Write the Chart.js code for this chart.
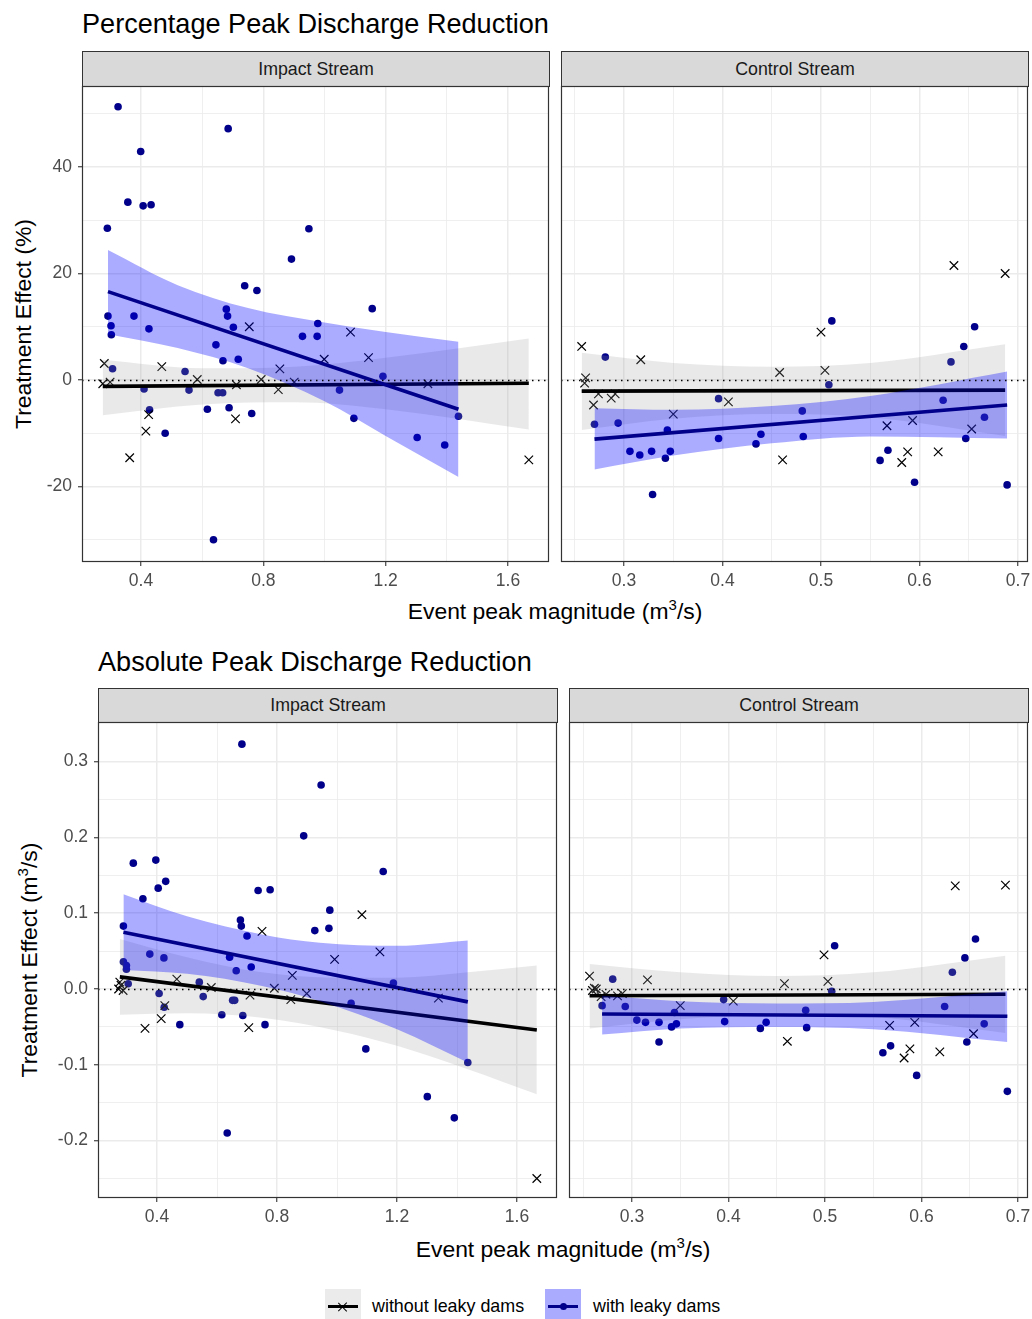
<!DOCTYPE html>
<html><head><meta charset="utf-8">
<script src="https://cdn.jsdelivr.net/npm/chart.js@4/dist/chart.umd.min.js"></script>
<style>
html,body{margin:0;padding:0;width:1032px;height:1319px;overflow:hidden;background:#fff;font-family:"Liberation Sans",Arial,Helvetica,sans-serif;}
.abs{position:absolute;}
canvas{position:absolute;}
.title{position:absolute;font-size:27.1px;line-height:1;color:#000;white-space:nowrap;}
.strip{position:absolute;background:#D9D9D9;border:1px solid #333;box-sizing:border-box;font-size:17.8px;color:#1A1A1A;display:flex;align-items:center;justify-content:center;}
.axt{position:absolute;font-size:22.9px;line-height:1;color:#000;white-space:nowrap;}
.axt sup{font-size:15px;line-height:0;vertical-align:9px;}
.leg{position:absolute;font-size:17.9px;line-height:1;color:#000;white-space:nowrap;}
</style></head>
<body>
<div class="title" style="left:82px;top:9.5px">Percentage Peak Discharge Reduction</div>
<div class="title" style="left:98px;top:647.5px">Absolute Peak Discharge Reduction</div>

<div class="strip" style="left:82px;top:51px;width:468px;height:36px">Impact Stream</div>
<div class="strip" style="left:561px;top:51px;width:468px;height:36px">Control Stream</div>
<div class="strip" style="left:98px;top:688px;width:460px;height:35px">Impact Stream</div>
<div class="strip" style="left:569px;top:688px;width:460px;height:35px">Control Stream</div>

<div class="axt" style="left:555px;top:600px;transform:translateX(-50%)">Event peak magnitude (m<sup>3</sup>/s)</div>
<div class="axt" style="left:563px;top:1238px;transform:translateX(-50%)">Event peak magnitude (m<sup>3</sup>/s)</div>
<div class="axt" style="left:23px;top:324px;transform:translate(-50%,-50%) rotate(-90deg)">Treatment Effect (%)</div>
<div class="axt" style="left:29px;top:960px;transform:translate(-50%,-50%) rotate(-90deg)">Treatment Effect (m<sup>3</sup>/s)</div>

<canvas id="tl" width="560" height="536" style="left:0px;top:66px;width:560px;height:536px"></canvas>
<canvas id="tr" width="488" height="536" style="left:550px;top:66px;width:488px;height:536px"></canvas>
<canvas id="bl" width="568" height="536" style="left:0px;top:702px;width:568px;height:536px"></canvas>
<canvas id="br" width="480" height="536" style="left:558px;top:702px;width:480px;height:536px"></canvas>

<!-- legend -->
<div class="abs" style="left:325px;top:1289px;width:36px;height:34px;background:#EBEBEB"></div>
<div class="abs" style="left:328px;top:1305px;width:30px;height:3px;background:#000"></div>
<div class="abs" style="left:342.4px;top:1300.5px;width:1.2px;height:12px;background:#000;transform:rotate(45deg)"></div>
<div class="abs" style="left:342.4px;top:1300.5px;width:1.2px;height:12px;background:#000;transform:rotate(-45deg)"></div>
<div class="leg" style="left:372px;top:1298px">without leaky dams</div>
<div class="abs" style="left:545px;top:1289px;width:36px;height:34px;background:#AAAAFF"></div>
<div class="abs" style="left:548px;top:1305px;width:30px;height:3px;background:#00008B"></div>
<div class="abs" style="left:559.5px;top:1303px;width:7px;height:7px;border-radius:50%;background:#00008B"></div>
<div class="leg" style="left:593px;top:1298px">with leaky dams</div>

<script>
// ---------------- DATA ----------------
// Tick / gridline values
const pctYGrid = [-30,-20,-10,0,10,20,30,40,50];
const pctYLabels = [-20,0,20,40];
const absYGrid = [-0.25,-0.2,-0.15,-0.1,-0.05,0,0.05,0.1,0.15,0.2,0.25,0.3];
const absYLabels = [-0.2,-0.1,0,0.1,0.2,0.3];
const impactXGrid = [0.4,0.6,0.8,1.0,1.2,1.4,1.6];
const impactXLabels = [0.4,0.8,1.2,1.6];
const controlXGrid = [0.25,0.3,0.35,0.4,0.45,0.5,0.55,0.6,0.65,0.7];
const controlXLabels = [0.3,0.4,0.5,0.6,0.7];

// Percentage - Impact Stream
const pctImpactWithout = [[0.280,3.1],[0.275,-0.7],[0.299,-0.4],[0.468,2.5],[0.584,0.1],[0.712,-0.9],[0.793,0.1],[0.854,2.1],[0.849,-1.8],[0.901,-0.4],[0.754,10.0],[0.425,-6.5],[0.416,-9.6],[0.709,-7.3],[0.363,-14.6],[0.999,3.9],[1.085,9.0],[1.144,4.2],[1.338,-0.7],[1.668,-15.0]];
const pctImpactWith = [[0.325,51.3],[0.685,47.2],[0.399,42.9],[0.357,33.4],[0.407,32.7],[0.433,32.9],[0.290,28.5],[0.949,28.4],[0.892,22.7],[0.739,17.7],[0.779,16.8],[0.679,13.3],[0.683,12.0],[0.292,12.0],[0.377,12.0],[0.302,10.2],[0.702,9.9],[0.426,9.6],[0.303,8.5],[0.978,10.6],[0.928,8.2],[0.976,8.2],[0.645,6.6],[0.668,3.6],[0.718,3.9],[0.307,2.1],[0.544,1.6],[0.410,-1.7],[0.557,-1.9],[0.652,-2.4],[0.667,-2.4],[0.428,-5.6],[0.617,-5.5],[0.688,-5.2],[0.762,-6.3],[0.479,-10.0],[0.637,-30.0],[1.156,13.4],[1.049,-1.9],[1.191,0.7],[1.096,-7.2],[1.438,-6.8],[1.303,-10.8],[1.393,-12.2]];
const pctImpactFitWithout = [[0.275,-1.2],[1.668,-0.6]];
const pctImpactBandWithoutX = [0.275,0.6,0.9,1.2,1.668];
const pctImpactBandWithoutHi = [3.8,2.2,2.5,4.2,7.8];
const pctImpactBandWithoutLo = [-6.6,-4.6,-4.2,-5.5,-9.3];
const pctImpactFitWith = [[0.292,16.6],[1.438,-5.5]];
const pctImpactBandWithX = [0.292,0.52,0.75,1.0,1.2,1.438];
const pctImpactBandWithHi = [24.4,17.8,13.5,10.8,9.0,7.2];
const pctImpactBandWithLo = [8.6,6.0,2.2,-4.0,-10.5,-18.2];

// Percentage - Control Stream
const pctControlWithout = [[0.257,6.3],[0.317,3.8],[0.261,0.4],[0.260,-0.6],[0.274,-2.6],[0.269,-4.7],[0.287,-3.4],[0.291,-2.6],[0.350,-6.4],[0.406,-4.1],[0.458,1.4],[0.461,-15.0],[0.500,9.0],[0.504,1.8],[0.635,21.5],[0.687,20.0],[0.567,-8.6],[0.593,-7.6],[0.588,-13.5],[0.582,-15.5],[0.619,-13.5],[0.653,-9.2]];
const pctControlWith = [[0.281,4.3],[0.270,-8.3],[0.294,-8.1],[0.344,-9.4],[0.306,-13.4],[0.316,-14.1],[0.328,-13.4],[0.347,-13.4],[0.342,-14.7],[0.329,-21.5],[0.396,-3.5],[0.396,-11.0],[0.434,-12.0],[0.439,-10.2],[0.481,-5.8],[0.482,-10.6],[0.511,11.1],[0.508,-0.9],[0.560,-15.1],[0.568,-13.2],[0.595,-19.2],[0.624,-3.8],[0.632,3.4],[0.645,6.3],[0.656,10.0],[0.666,-7.0],[0.647,-11.0],[0.689,-19.7]];
const pctControlFitWithout = [[0.257,-2.1],[0.687,-1.9]];
const pctControlBandWithoutX = [0.257,0.35,0.45,0.55,0.687];
const pctControlBandWithoutHi = [5.1,3.2,2.5,3.2,6.7];
const pctControlBandWithoutLo = [-9.4,-7.3,-6.4,-7.0,-10.5];
const pctControlFitWith = [[0.270,-11.1],[0.689,-4.7]];
const pctControlBandWithX = [0.270,0.35,0.45,0.55,0.689];
const pctControlBandWithHi = [-5.3,-5.6,-4.9,-3.0,1.6];
const pctControlBandWithLo = [-16.8,-14.2,-11.9,-10.6,-11.0];

// Absolute - Impact Stream
const absImpactWithout = [[0.276,0.009],[0.272,0.000],[0.287,-0.002],[0.280,0.005],[0.466,0.013],[0.581,0.002],[0.710,-0.008],[0.791,0.001],[0.851,0.018],[0.846,-0.014],[0.899,-0.006],[0.992,0.039],[0.414,-0.039],[0.426,-0.022],[0.360,-0.052],[0.706,-0.051],[0.750,0.076],[1.083,0.098],[1.143,0.049],[1.338,-0.012],[1.666,-0.250]];
const absImpactWith = [[0.683,0.323],[0.947,0.269],[0.889,0.202],[0.321,0.166],[0.396,0.170],[0.429,0.142],[0.404,0.133],[0.353,0.119],[0.737,0.130],[0.777,0.131],[0.976,0.104],[0.973,0.080],[0.926,0.077],[0.288,0.083],[0.678,0.091],[0.681,0.083],[0.700,0.070],[0.376,0.046],[0.423,0.041],[0.288,0.036],[0.298,0.031],[0.298,0.026],[0.642,0.042],[0.714,0.029],[0.664,0.024],[0.304,0.007],[0.541,0.009],[0.554,-0.010],[0.407,-0.006],[0.652,-0.015],[0.659,-0.015],[0.424,-0.024],[0.616,-0.034],[0.686,-0.035],[0.476,-0.047],[0.760,-0.047],[0.634,-0.190],[1.154,0.155],[1.188,0.008],[1.047,-0.019],[1.096,-0.079],[1.436,-0.097],[1.301,-0.142],[1.391,-0.170]];
const absImpactFitWithout = [[0.276,0.016],[1.666,-0.054]];
const absImpactBandWithoutX = [0.276,0.5,0.75,1.0,1.2,1.436,1.666];
const absImpactBandWithoutHi = [0.066,0.042,0.022,0.015,0.015,0.022,0.031];
const absImpactBandWithoutLo = [-0.034,-0.032,-0.038,-0.055,-0.075,-0.106,-0.139];
const absImpactFitWith = [[0.288,0.075],[1.436,-0.017]];
const absImpactBandWithX = [0.288,0.5,0.75,0.943,1.2,1.436];
const absImpactBandWithHi = [0.125,0.096,0.072,0.061,0.057,0.064];
const absImpactBandWithLo = [0.025,0.020,0.004,-0.016,-0.053,-0.097];

// Absolute - Control Stream
const absControlWithout = [[0.256,0.017],[0.261,0.001],[0.259,-0.002],[0.263,0.000],[0.268,-0.010],[0.273,-0.007],[0.285,-0.009],[0.290,-0.006],[0.316,0.012],[0.350,-0.022],[0.405,-0.016],[0.458,0.007],[0.461,-0.069],[0.499,0.045],[0.503,0.010],[0.635,0.136],[0.687,0.137],[0.567,-0.048],[0.593,-0.044],[0.588,-0.079],[0.582,-0.091],[0.619,-0.083],[0.654,-0.059]];
const absControlWith = [[0.280,0.013],[0.269,-0.022],[0.293,-0.023],[0.305,-0.041],[0.314,-0.044],[0.328,-0.044],[0.341,-0.050],[0.346,-0.046],[0.344,-0.031],[0.328,-0.070],[0.395,-0.014],[0.396,-0.043],[0.433,-0.052],[0.439,-0.044],[0.480,-0.028],[0.481,-0.051],[0.510,0.057],[0.507,-0.003],[0.560,-0.084],[0.568,-0.075],[0.595,-0.114],[0.624,-0.023],[0.632,0.022],[0.645,0.041],[0.656,0.066],[0.665,-0.046],[0.647,-0.070],[0.689,-0.135]];
const absControlFitWithout = [[0.256,-0.009],[0.687,-0.007]];
const absControlBandWithoutX = [0.256,0.35,0.45,0.55,0.687];
const absControlBandWithoutHi = [0.033,0.022,0.017,0.022,0.044];
const absControlBandWithoutLo = [-0.052,-0.040,-0.034,-0.037,-0.058];
const absControlFitWith = [[0.269,-0.033],[0.689,-0.036]];
const absControlBandWithX = [0.269,0.35,0.45,0.55,0.689];
const absControlBandWithHi = [-0.009,-0.016,-0.019,-0.017,-0.003];
const absControlBandWithLo = [-0.060,-0.052,-0.050,-0.053,-0.070];

// ---------------- STYLE / BUILD ----------------
const FONT = '"Liberation Sans", Arial, Helvetica, sans-serif';
Chart.defaults.font.family = FONT;
const TICK = '#4D4D4D', GRID = '#EBEBEB', NAVY = '#00008B';
const GREY_FILL = 'rgba(153,153,153,0.22)', BLUE_FILL = 'rgba(0,0,255,0.33)';

const pts = arr => arr.map(([x, y]) => ({x, y}));
const band = (xs, ys) => xs.map((x, i) => ({x, y: ys[i]}));
const near = (list, v) => list.some(l => Math.abs(l - v) < 1e-7);

const framePlugin = {
  id: 'frame',
  afterDatasetsDraw(chart) {
    const {ctx, chartArea: a, scales: {y}} = chart;
    const py = Math.round(y.getPixelForValue(0)) + 0.5;
    ctx.save();
    ctx.strokeStyle = '#000'; ctx.lineWidth = 1.4; ctx.setLineDash([1.5, 4.5]);
    ctx.beginPath(); ctx.moveTo(a.left, py); ctx.lineTo(a.right, py); ctx.stroke();
    ctx.restore();
  },
  afterDraw(chart) {
    const {ctx, chartArea: a} = chart;
    ctx.save();
    ctx.strokeStyle = '#333'; ctx.lineWidth = 1.2;
    ctx.strokeRect(a.left + 0.5, a.top + 0.5, a.right - a.left - 1, a.bottom - a.top - 1);
    ctx.restore();
  }
};

function gridOpts(labels, drawTicks) {
  return {
    color: GRID,
    lineWidth: c => (c.tick && near(labels, c.tick.value)) ? 1.5 : 0.8,
    drawTicks: drawTicks, tickLength: 4, tickWidth: 1.1,
    tickColor: c => (c.tick && near(labels, c.tick.value)) ? '#333' : 'rgba(0,0,0,0)'
  };
}

function makePanel(id, c) {
  const datasets = [
    {type:'line', data: band(c.bwX, c.bwHi), fill:'+1', backgroundColor:GREY_FILL, borderColor:'transparent', borderWidth:0, pointRadius:0, cubicInterpolationMode:'monotone', order:4},
    {type:'line', data: band(c.bwX, c.bwLo), fill:false, borderColor:'transparent', borderWidth:0, pointRadius:0, cubicInterpolationMode:'monotone', order:4},
    {type:'line', data: pts(c.fitWo), fill:false, borderColor:'#000', borderWidth:3.6, pointRadius:0, order:3},
    {type:'line', data: band(c.bX, c.bHi), fill:'+1', backgroundColor:BLUE_FILL, borderColor:'transparent', borderWidth:0, pointRadius:0, cubicInterpolationMode:'monotone', order:2},
    {type:'line', data: band(c.bX, c.bLo), fill:false, borderColor:'transparent', borderWidth:0, pointRadius:0, cubicInterpolationMode:'monotone', order:2},
    {type:'line', data: pts(c.fitW), fill:false, borderColor:NAVY, borderWidth:3.6, pointRadius:0, order:1},
    {type:'scatter', data: pts(c.wo), pointStyle:'crossRot', pointRadius:6, borderColor:'#000', backgroundColor:'#000', borderWidth:1.2, order:10},
    {type:'scatter', data: pts(c.w), pointStyle:'circle', pointRadius:3.8, backgroundColor:NAVY, borderColor:NAVY, borderWidth:0, order:10}
  ];
  new Chart(document.getElementById(id), {
    type: 'scatter',
    data: {datasets},
    plugins: [framePlugin],
    options: {
      responsive: false, animation: false, events: [],
      layout: {padding: {top: 20, right: c.padR, bottom: 0, left: 0}},
      plugins: {legend: {display: false}, tooltip: {enabled: false}},
      scales: {
        x: {
          type: 'linear', position: 'bottom', min: c.xr[0], max: c.xr[1],
          afterBuildTicks: s => { s.ticks = c.xGrid.map(v => ({value: v})); },
          afterFit: s => { s.height = 40; },
          ticks: {autoSkip: false, maxRotation: 0, minRotation: 0, padding: 5, color: TICK,
                  font: {size: 17.5, family: FONT},
                  callback: v => near(c.xLab, v) ? v.toFixed(1) : ''},
          grid: gridOpts(c.xLab, true),
          border: {display: false}
        },
        y: {
          type: 'linear', position: 'left', min: c.yr[0], max: c.yr[1],
          afterBuildTicks: s => { s.ticks = c.yGrid.map(v => ({value: v})); },
          afterFit: s => { s.width = c.yW; },
          ticks: {display: c.showY, autoSkip: false, padding: 6, color: TICK,
                  font: {size: 17.5, family: FONT},
                  callback: v => near(c.yLab, v) ? c.yFmt(v) : ''},
          grid: gridOpts(c.yLab, c.showY),
          border: {display: false}
        }
      }
    }
  });
}

const pctFmt = v => String(Math.round(v));
const absFmt = v => v.toFixed(1);
const pctYRange = [-34.18, 55.21];
const absYRange = [-0.2757, 0.3522];

makePanel('tl', {xr:[0.2071,1.734], yr:pctYRange, xGrid:impactXGrid, xLab:impactXLabels, yGrid:pctYGrid, yLab:pctYLabels, yFmt:pctFmt, showY:true, yW:82, padR:11,
  wo:pctImpactWithout, w:pctImpactWith, fitWo:pctImpactFitWithout, fitW:pctImpactFitWith,
  bwX:pctImpactBandWithoutX, bwHi:pctImpactBandWithoutHi, bwLo:pctImpactBandWithoutLo,
  bX:pctImpactBandWithX, bHi:pctImpactBandWithHi, bLo:pctImpactBandWithLo});
makePanel('tr', {xr:[0.2360,0.7102], yr:pctYRange, xGrid:controlXGrid, xLab:controlXLabels, yGrid:pctYGrid, yLab:pctYLabels, yFmt:pctFmt, showY:false, yW:11, padR:10,
  wo:pctControlWithout, w:pctControlWith, fitWo:pctControlFitWithout, fitW:pctControlFitWith,
  bwX:pctControlBandWithoutX, bwHi:pctControlBandWithoutHi, bwLo:pctControlBandWithoutLo,
  bX:pctControlBandWithX, bHi:pctControlBandWithHi, bLo:pctControlBandWithLo});
makePanel('bl', {xr:[0.2033,1.7333], yr:absYRange, xGrid:impactXGrid, xLab:impactXLabels, yGrid:absYGrid, yLab:absYLabels, yFmt:absFmt, showY:true, yW:98, padR:11,
  wo:absImpactWithout, w:absImpactWith, fitWo:absImpactFitWithout, fitW:absImpactFitWith,
  bwX:absImpactBandWithoutX, bwHi:absImpactBandWithoutHi, bwLo:absImpactBandWithoutLo,
  bX:absImpactBandWithX, bHi:absImpactBandWithHi, bLo:absImpactBandWithLo});
makePanel('br', {xr:[0.2347,0.7104], yr:absYRange, xGrid:controlXGrid, xLab:controlXLabels, yGrid:absYGrid, yLab:absYLabels, yFmt:absFmt, showY:false, yW:11, padR:10,
  wo:absControlWithout, w:absControlWith, fitWo:absControlFitWithout, fitW:absControlFitWith,
  bwX:absControlBandWithoutX, bwHi:absControlBandWithoutHi, bwLo:absControlBandWithoutLo,
  bX:absControlBandWithX, bHi:absControlBandWithHi, bLo:absControlBandWithLo});
</script>
</body></html>
